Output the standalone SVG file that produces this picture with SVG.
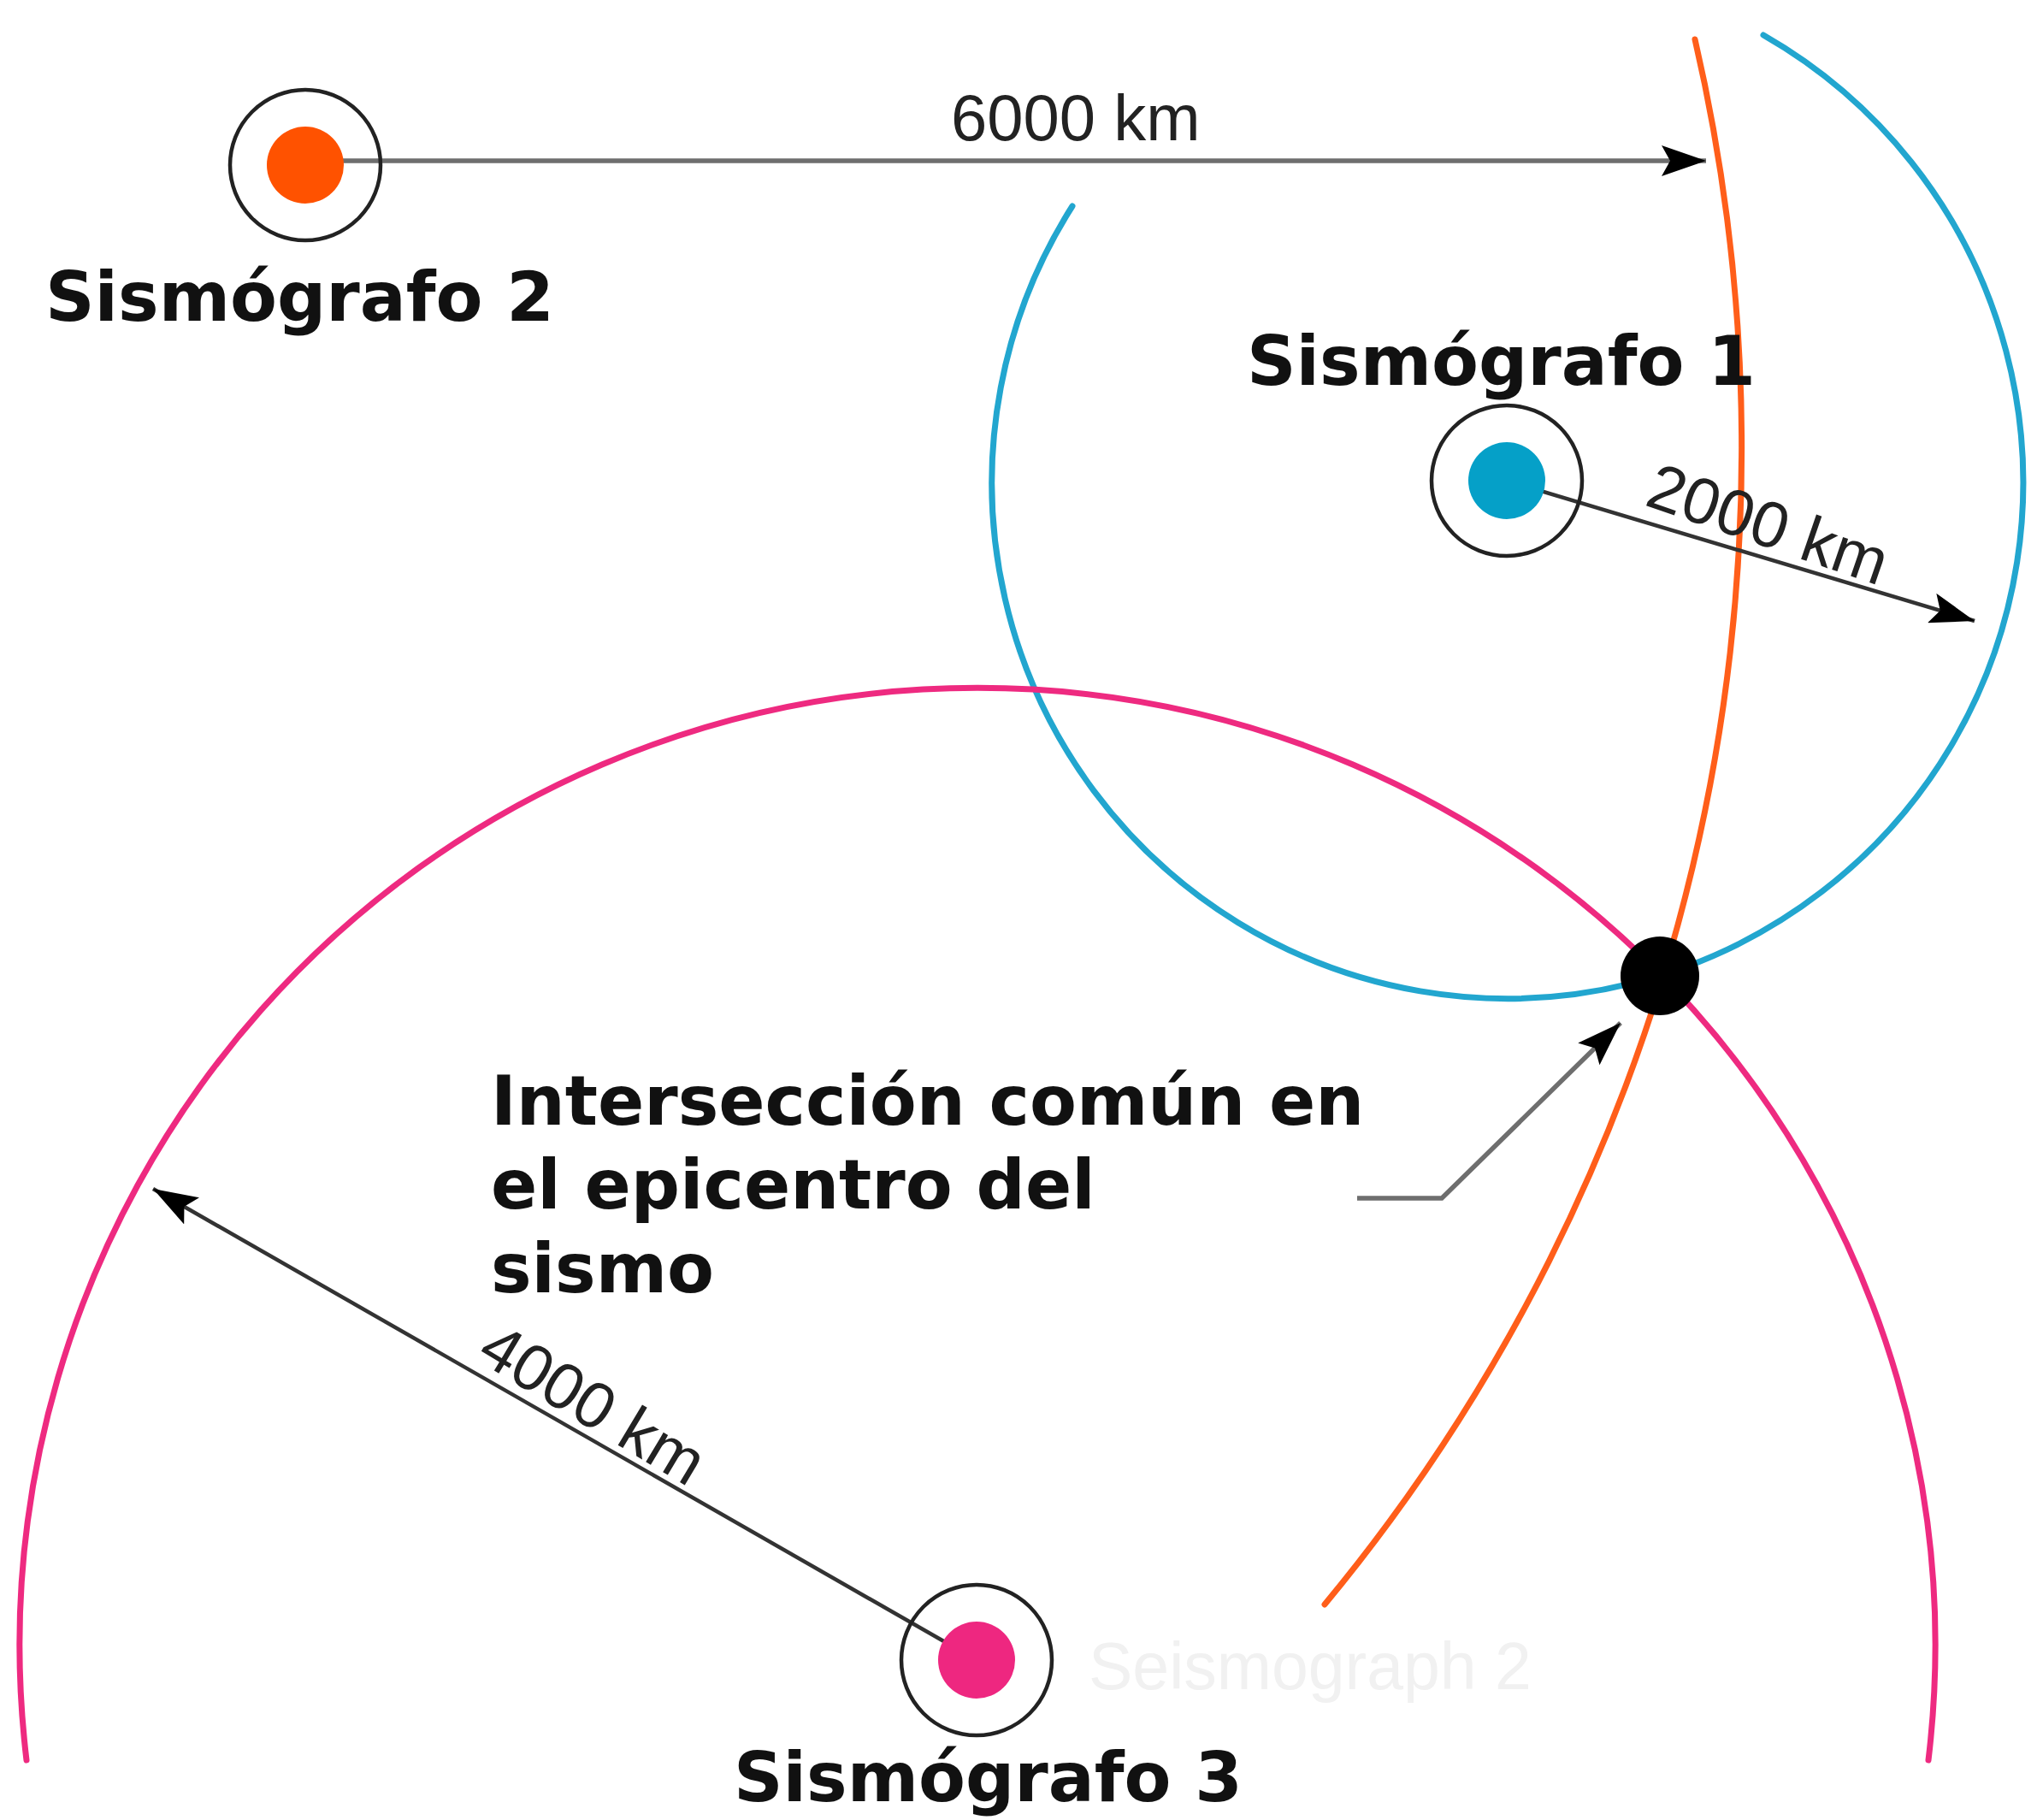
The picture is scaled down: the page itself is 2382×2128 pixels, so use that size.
<svg xmlns="http://www.w3.org/2000/svg" width="2382" height="2128" viewBox="0 0 2382 2128">
<style>
.bg{fill:#ffffff}
.ring{fill:none;stroke:#222;stroke-width:4.5}
.lbl{font-family:"DejaVu Sans","Liberation Sans",sans-serif;font-weight:bold;font-size:80px;fill:#111}
.km{font-family:"Liberation Sans",Arial,sans-serif;font-size:76px;fill:#222}
.ghost{font-family:"Liberation Sans",Arial,sans-serif;font-size:77px;fill:#f1f1f1}
.arc{fill:none;stroke-width:7;stroke-linecap:round}
.conn{fill:none;stroke:#333;stroke-width:4.5;marker-end:url(#ah)}
.conn.gray{stroke:#6e6e6e;stroke-width:5.5}
</style>
<defs>
<marker id="ah" markerUnits="userSpaceOnUse" markerWidth="54" markerHeight="36" refX="52" refY="18" orient="auto">
<path d="M0,0 L52,18 L0,36 L10,18 z" fill="#000"/>
</marker>
</defs>
<rect class="bg" x="0" y="0" width="2382" height="2128"/>

<g id="distance-circles">
<path id="circle-2" class="arc" stroke="#FF5E1A" d="M 1982 46 A 2118 2118 0 0 1 1549 1876"/>
<path id="circle-1" class="arc" stroke="#22A6CF" d="M 1254 241 A 603 603 0 1 0 2062 41"/>
<path id="circle-3" class="arc" stroke="#EE2A80" d="M 31 2058 A 1120 1120 0 1 1 2255 2058"/>
</g>

<text class="ghost" x="1273" y="1975">Seismograph 2</text>

<g id="connectors">
<path id="arrow-6000" class="conn gray" d="M 400 188 L 1995 188"/>
<path id="arrow-2000" class="conn" d="M 1762 562 L 2309 726"/>
<path id="arrow-4000" class="conn" d="M 1142 1941 L 179 1390"/>
<path id="pointer" class="conn gray" d="M 1587 1401 L 1686 1401 L 1895 1196"/>
<text class="km" x="1112" y="164">6000 km</text>
<text class="km" text-anchor="middle" transform="translate(2068 612) rotate(19)" y="27">2000 km</text>
<text class="km" text-anchor="middle" transform="translate(694 1641) rotate(31)" y="27">4000 km</text>
</g>

<g id="sismografo-2">
<circle class="ring" cx="357" cy="193" r="88"/>
<circle cx="357" cy="193" r="45" fill="#FF5200"/>
<text class="lbl" x="53" y="375">Sismógrafo 2</text>
</g>

<g id="sismografo-1">
<circle class="ring" cx="1762" cy="562" r="88"/>
<circle cx="1762" cy="562" r="45" fill="#05A0C8"/>
<text class="lbl" x="1458" y="450">Sismógrafo 1</text>
</g>

<g id="sismografo-3">
<circle class="ring" cx="1142" cy="1941" r="88"/>
<circle cx="1142" cy="1941" r="45" fill="#EE2780"/>
<text class="lbl" x="858" y="2106">Sismógrafo 3</text>
</g>

<g id="epicentro">
<circle cx="1941" cy="1141" r="46" fill="#000"/>
<text class="lbl" font-size="79" x="574" y="1315">Intersección común en</text>
<text class="lbl" font-size="79" x="574" y="1413">el epicentro del</text>
<text class="lbl" font-size="79" x="574" y="1511">sismo</text>
</g>
</svg>
